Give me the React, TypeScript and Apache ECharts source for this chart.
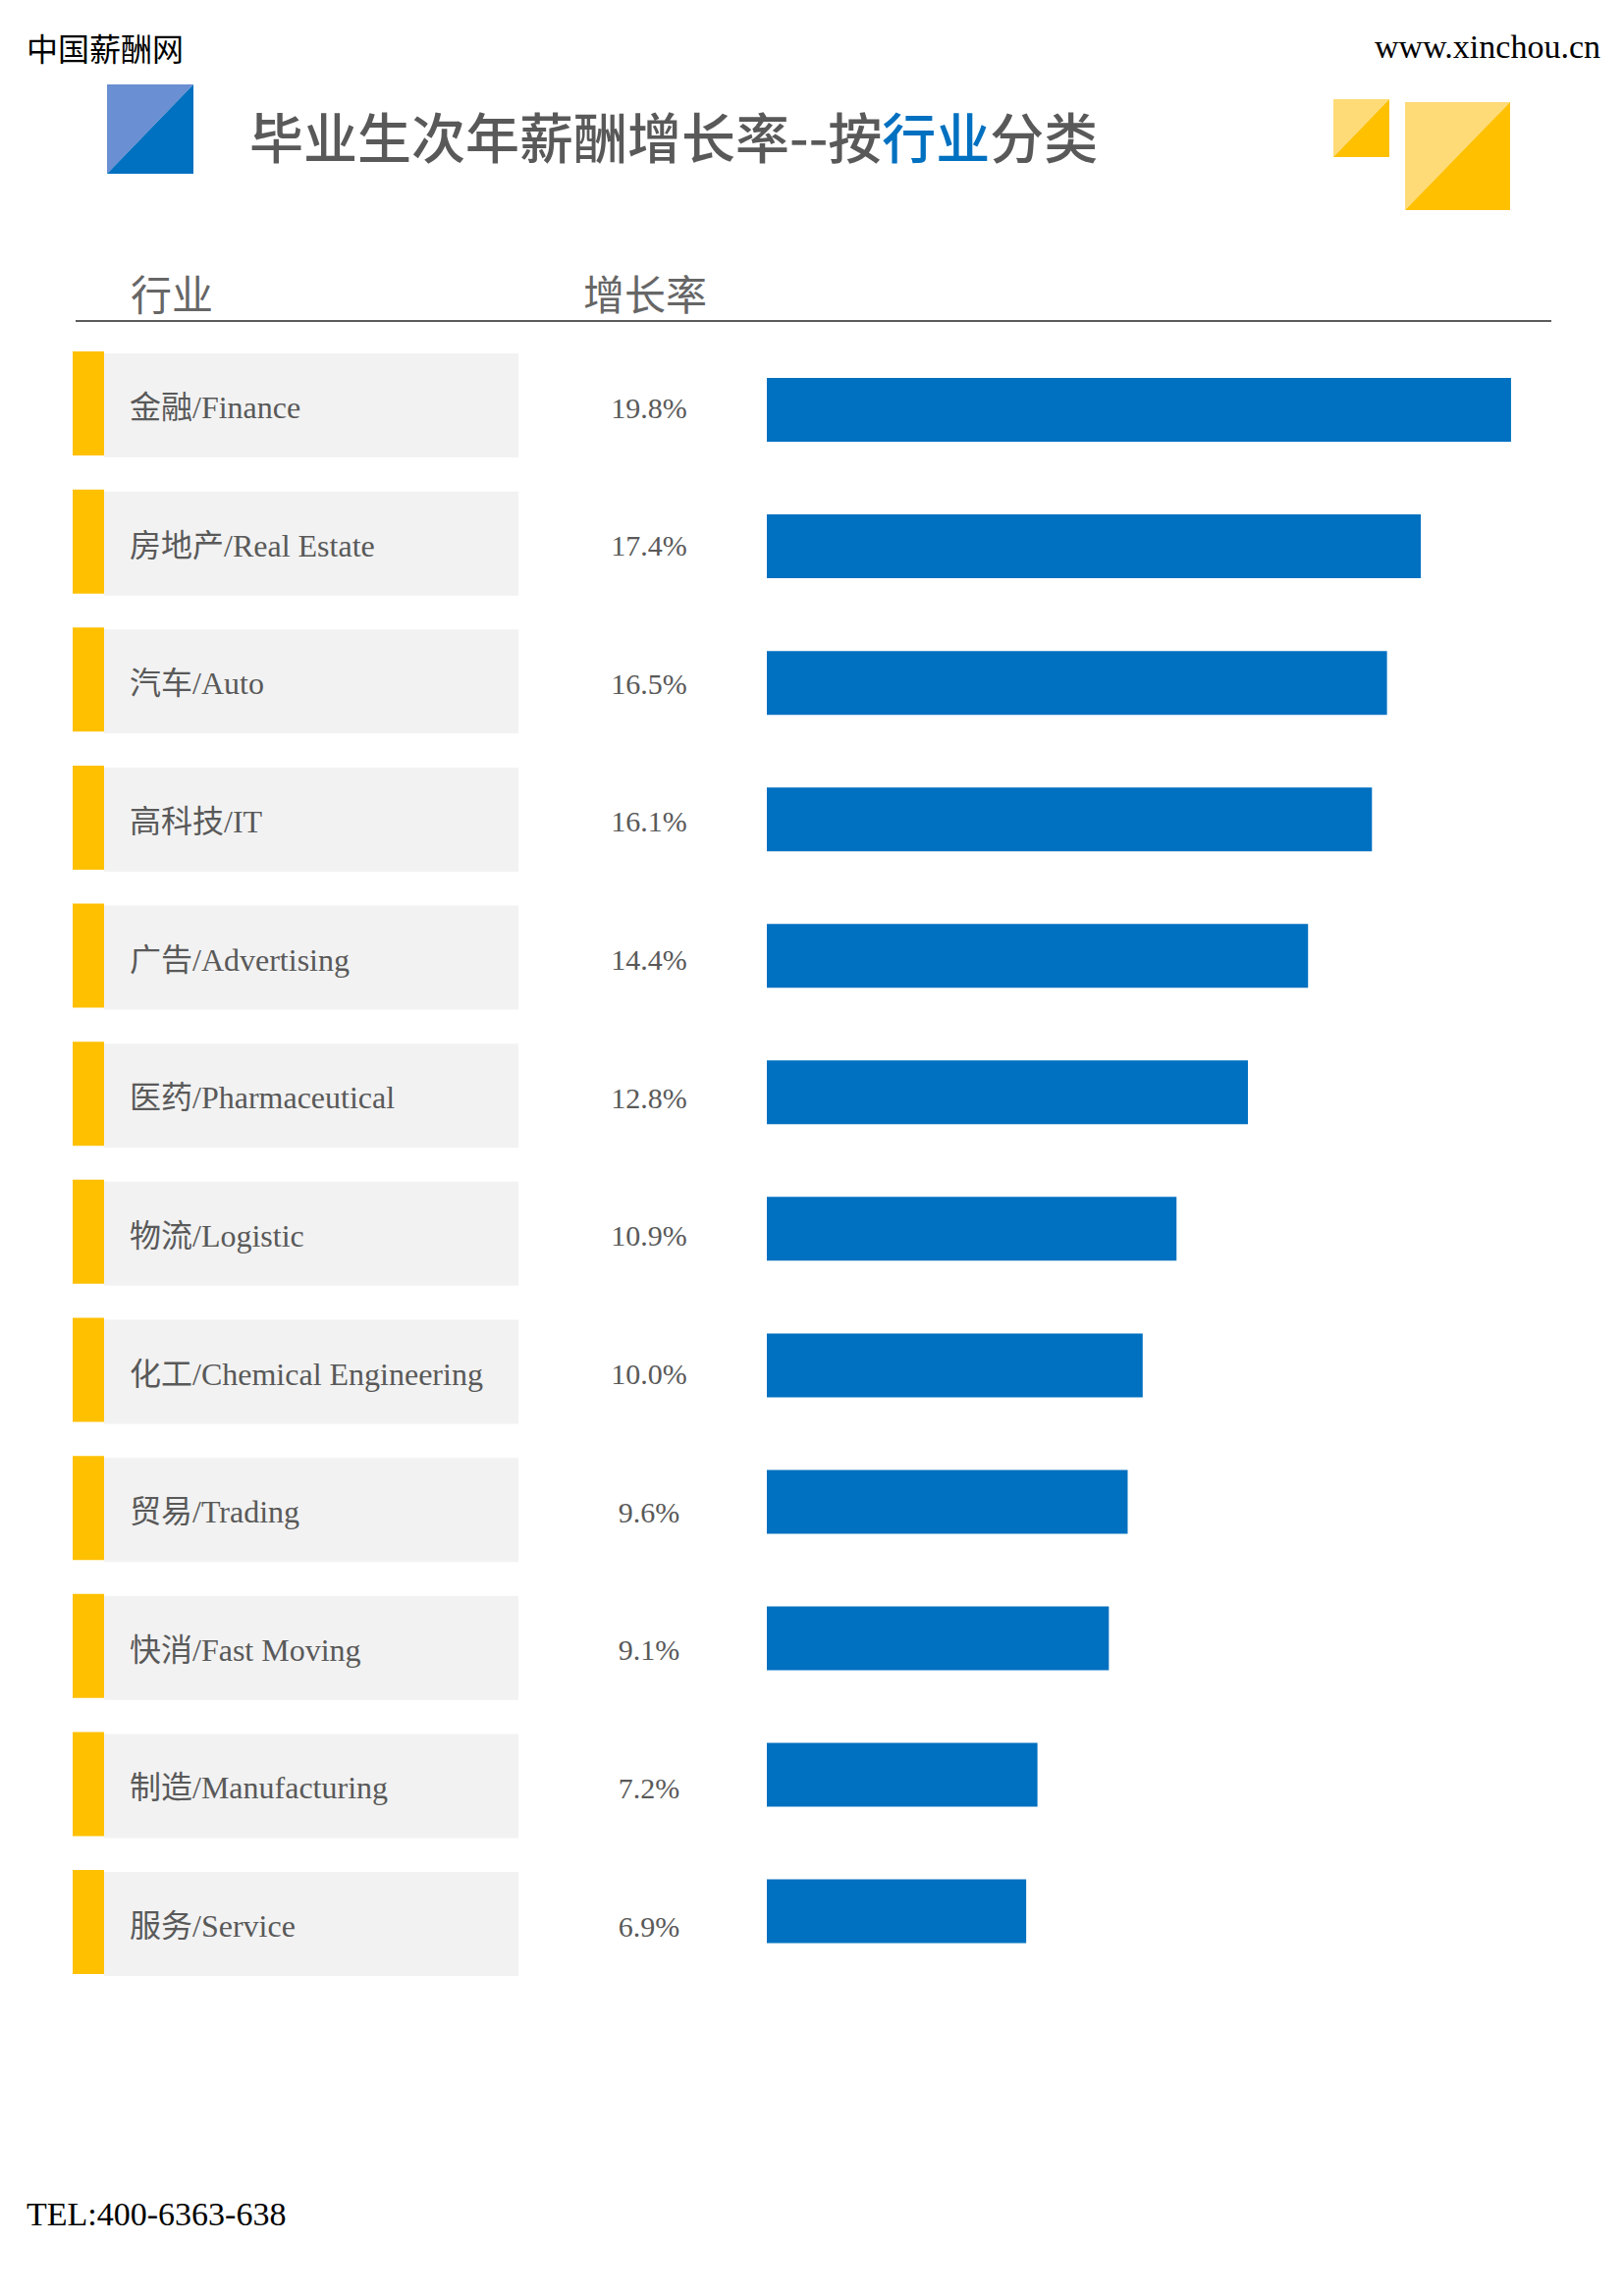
import React, { useEffect, useRef } from 'react';
import * as echarts from 'echarts';

const categories = [
  '金融/Finance',
  '房地产/Real Estate',
  '汽车/Auto',
  '高科技/IT',
  '广告/Advertising',
  '医药/Pharmaceutical',
  '物流/Logistic',
  '化工/Chemical Engineering',
  '贸易/Trading',
  '快消/Fast Moving',
  '制造/Manufacturing',
  '服务/Service',
];
const values = [19.8, 17.4, 16.5, 16.1, 14.4, 12.8, 10.9, 10.0, 9.6, 9.1, 7.2, 6.9];
const valueMax = 20;

const titleMain = '毕业生次年薪酬增长率--按';
const titleHighlight = '行业';
const titleTail = '分类';
const headerIndustry = '行业';
const headerRate = '增长率';
const siteName = '中国薪酬网';
const siteUrl = 'www.xinchou.cn';
const telText = 'TEL:400-6363-638';

const SERIF = "'Liberation Serif','Noto Sans CJK SC',serif";
const CJK = "'Noto Sans CJK SC','Noto Sans',sans-serif";

export default function App() {
  const ref = useRef<HTMLDivElement>(null);
  useEffect(() => {
    const chart = echarts.init(ref.current as HTMLDivElement, null, { renderer: 'svg' });
    chart.setOption({
      animation: false,
      backgroundColor: '#ffffff',
      grid: [
        { left: 781, top: 348, width: 765.6, height: 1668.6 },
        { left: 74, top: 340.7, width: 454, height: 1687.7 },
      ],
      xAxis: [
        { type: 'value', gridIndex: 0, min: 0, max: valueMax, show: false },
        { type: 'value', gridIndex: 1, min: 0, max: 1, show: false },
      ],
      yAxis: [
        { type: 'category', gridIndex: 0, data: categories, inverse: true, show: false },
        { type: 'category', gridIndex: 1, data: categories, inverse: true, show: false },
      ],
      series: [
        {
          type: 'bar',
          xAxisIndex: 0,
          yAxisIndex: 0,
          data: values,
          barWidth: 65,
          itemStyle: { color: '#0070C0' },
          silent: true,
        },
        {
          type: 'custom',
          xAxisIndex: 1,
          yAxisIndex: 1,
          silent: true,
          clip: false,
          data: categories.map((c, i) => [0, i, values[i]]),
          encode: { x: 0, y: 1 },
          renderItem: (params: any, api: any) => {
            const idx = api.value(1);
            const v = api.value(2);
            const pt = api.coord([0, idx]);
            const cy = pt[1];
            return {
              type: 'group',
              children: [
                { type: 'rect', shape: { x: 106, y: cy - 51, width: 422, height: 106 }, style: { fill: '#F2F2F2' } },
                { type: 'rect', shape: { x: 74, y: cy - 53, width: 32, height: 106 }, style: { fill: '#FFC000' } },
                {
                  type: 'text',
                  style: {
                    x: 132, y: cy + 4, text: categories[idx], fill: '#595959',
                    fontSize: 32, fontFamily: SERIF, align: 'left', verticalAlign: 'middle',
                  },
                },
                {
                  type: 'text',
                  style: {
                    x: 661, y: cy + 4, text: Number(v).toFixed(1) + '%', fill: '#595959',
                    fontSize: 30, fontFamily: SERIF, align: 'center', verticalAlign: 'middle',
                  },
                },
              ],
            };
          },
        },
      ],
      graphic: [
        { type: 'text', style: { x: 27, y: 48, text: siteName, fill: '#000', fontSize: 32, fontFamily: CJK, verticalAlign: 'middle' } },
        { type: 'text', style: { x: 1630, y: 47, text: siteUrl, fill: '#000', fontSize: 34, fontFamily: SERIF, align: 'right', verticalAlign: 'middle' } },
        { type: 'polygon', shape: { points: [[109, 86], [197, 86], [109, 177]] }, style: { fill: '#6A8FD2' } },
        { type: 'polygon', shape: { points: [[197, 86], [197, 177], [109, 177]] }, style: { fill: '#0070C0' } },
        { type: 'polygon', shape: { points: [[1358, 101], [1415, 101], [1358, 160]] }, style: { fill: '#FFDB78' } },
        { type: 'polygon', shape: { points: [[1415, 101], [1415, 160], [1358, 160]] }, style: { fill: '#FFC000' } },
        { type: 'polygon', shape: { points: [[1431, 104], [1538, 104], [1431, 214]] }, style: { fill: '#FFDB78' } },
        { type: 'polygon', shape: { points: [[1538, 104], [1538, 214], [1431, 214]] }, style: { fill: '#FFC000' } },
        {
          type: 'text',
          style: {
            x: 254, y: 137,
            text: '{g|' + titleMain + '}{b|' + titleHighlight + '}{g|' + titleTail + '}',
            verticalAlign: 'middle',
            rich: {
              g: { fontSize: 55, fontFamily: CJK, fill: '#595959', color: '#595959', fontWeight: 500 },
              b: { fontSize: 55, fontFamily: CJK, fill: '#0070C0', color: '#0070C0', fontWeight: 500 },
            },
          },
        },
        { type: 'text', style: { x: 133, y: 297, text: headerIndustry, fill: '#666666', fontSize: 42, fontFamily: CJK, verticalAlign: 'middle' } },
        { type: 'text', style: { x: 594, y: 297, text: headerRate, fill: '#666666', fontSize: 42, fontFamily: CJK, verticalAlign: 'middle' } },
        { type: 'line', shape: { x1: 77, y1: 327, x2: 1580, y2: 327 }, style: { stroke: '#262626', lineWidth: 1.5 } },
        { type: 'text', style: { x: 27, y: 2255, text: telText, fill: '#000', fontSize: 34, fontFamily: SERIF, verticalAlign: 'middle' } },
      ],
    });
    return () => chart.dispose();
  }, []);
  return <div ref={ref} style={{ position: 'absolute', left: 0, top: 0, width: 1654, height: 2339 }} />;
}
